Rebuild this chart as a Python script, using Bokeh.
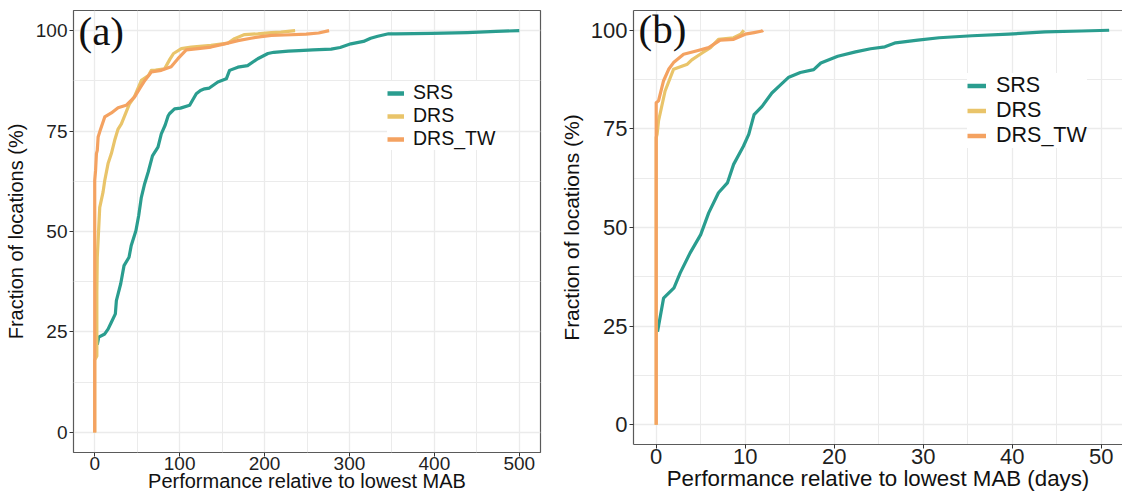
from bokeh.plotting import figure
from bokeh.layouts import row, column
from bokeh.models import FixedTicker, Legend, LegendItem, Label, LinearAxis, Range1d
from bokeh.embed import file_html
from bokeh.resources import INLINE

# ---------------- data: panel (a) ----------------
series_names = ["SRS", "DRS", "DRS_TW"]
series_colors = ["#2A9D8F", "#E9C46A", "#F4A261"]

srs_a_x = [3, 4.7, 11.8, 15.7, 19.6, 24.3, 25.5, 30.6, 34.5, 40.4, 43, 48.5, 51.8,
           54.9, 58.8, 63, 68, 74.5, 78.4, 83, 86.5, 88, 94, 101, 111.8, 119.6,
           124.5, 129.4, 135, 145, 155, 158.8, 168.6, 180, 192, 204, 211, 228,
           240.5, 257, 278.5, 289, 301.7, 316.5, 325, 333.3, 346, 354.4, 396.6,
           438.8, 472.6, 500]
srs_a_y = [21.8, 23.7, 24.5, 25.7, 27.4, 29.5, 32.8, 37, 41.5, 43.6, 46.5, 50.2, 54,
           58.5, 61.9, 64.8, 68.8, 71, 74.3, 76.5, 78.8, 79.3, 80.5, 80.7, 81.4, 84.3,
           85.1, 85.5, 85.7, 87.2, 88, 90.1, 90.9, 91.3, 93, 94.3, 94.6, 94.9,
           95, 95.2, 95.4, 95.8, 96.7, 97.3, 98.1, 98.6, 99.2, 99.2, 99.3,
           99.5, 99.8, 100]

drs_a_x = [0, 0, 2.5, 2.5, 3, 5.9, 9.8, 11.8, 15.7, 19.6, 23.5, 27.5, 31.4, 41, 46.4,
           55, 63.3, 66.7, 71.7, 82.3, 88.6, 92.8, 102, 113.7, 137, 157, 164.7,
           176.5, 192, 208, 219.4, 236]
drs_a_y = [0, 18, 19, 35, 43.6, 56, 59.8, 62.7, 66.9, 69.4, 72.7, 75.5, 76.8, 81.8, 83.4,
           87.6, 88.8, 90.1, 90.2, 90.5, 92.9, 94.3, 95.5, 95.9, 96.3, 96.9, 98,
           99, 99.2, 99.5, 99.6, 100]

tw_a_x = [0, 0, 1, 2, 3, 4, 5.9, 11.8, 19.6, 27.5, 37, 47, 52.7, 59, 66.7, 78.4, 90,
          98, 107.8, 121.6, 137, 153, 168.6, 184, 196, 208, 223.6, 249, 263.7, 276]
tw_a_y = [0, 62.7, 65.2, 69.4, 70.2, 73.5, 74.8, 78.5, 79.5, 80.8, 81.4, 83.5, 85.5, 87.6,
          89.7, 90.1, 91, 93, 95.2, 95.5, 95.9, 96.7, 97.5, 98.1, 98.5, 98.8,
          98.9, 99.1, 99.4, 100]

# ---------------- data: panel (b) ----------------
srs_b_x = [0.15, 0.83, 2, 2.7, 3.8, 5, 5.9, 7, 8, 8.7, 9.8, 10.4, 11, 11.9, 13, 14,
           14.9, 16.2, 17.7, 18.5, 20.4, 22.4, 24.1, 25.7, 26.9, 29.4, 31.8, 35.5,
           39.6, 43.7, 47.8, 50.9]
srs_b_y = [23.6, 32.1, 34.7, 38.5, 43.5, 48.2, 53.7, 58.8, 61.3, 66, 70.6, 73.6, 78.6,
           80.7, 84.1, 86.2, 88.1, 89.3, 90, 91.7, 93.4, 94.5, 95.3, 95.8, 96.8, 97.5,
           98.1, 98.6, 99, 99.6, 99.8, 100]

drs_b_x = [0, 0, 0.1, 0.26, 1, 1.95, 3.5, 4, 5.2, 6.1, 7, 8.7, 9.5, 9.85]
drs_b_y = [0, 72.8, 73.6, 77, 84.6, 90.1, 91.4, 92.5, 94.3, 95.6, 97.7, 98.1, 99, 100]

tw_b_x = [0, 0, 0.26, 0.83, 1.4, 1.95, 3.08, 4.6, 5.9, 6.5, 7.2, 8.7, 10, 11, 11.9, 12]
tw_b_y = [0, 81.6, 82.1, 87.2, 90.1, 91.8, 93.9, 94.8, 95.6, 96.5, 97.5, 97.7, 99,
          99.4, 99.8, 100]

y_ticks = [0, 25, 50, 75, 100]
y_minor = [12.5, 37.5, 62.5, 87.5]
xa_ticks = [0, 100, 200, 300, 400, 500]
xa_minor = [50, 150, 250, 350, 450]
xb_ticks = [0, 10, 20, 30, 40, 50]
xb_minor = [5, 15, 25, 35, 45]

FONT = "Liberation Sans"
GRID = "#EBEBEB"
BORDER = "#5a5a5a"
NAN = float("nan")


def style(p, xt, xm, tick_size):
    xax = p.below[0]
    yax = p.left[0]
    xax.ticker = FixedTicker(ticks=xt, minor_ticks=xm)
    yax.ticker = FixedTicker(ticks=y_ticks, minor_ticks=y_minor)
    for g in (p.xgrid[0], p.ygrid[0]):
        g.grid_line_color = GRID
        g.grid_line_width = 1.3
        g.minor_grid_line_color = GRID
        g.minor_grid_line_width = 1.0
    for ax in (xax, yax):
        ax.major_label_text_font = FONT
        ax.major_label_text_font_size = tick_size
        ax.major_label_text_color = "#1f1f1f"
        ax.major_tick_in = 0
        ax.major_tick_out = 4
        ax.major_tick_line_color = "#333333"
        ax.minor_tick_line_color = None
        ax.axis_label_text_font = FONT
        ax.axis_label_text_font_style = "normal"
        ax.axis_label_text_color = "#111111"
    p.background_fill_color = "white"
    p.border_fill_color = "white"
    return xax, yax


def add_lines(p, xs_list, ys_list, lw):
    for xs, ys, c in zip(xs_list, ys_list, series_colors):
        p.line(xs, ys, line_color=c, line_width=lw, line_join="round")


def add_legend(p, loc, fsize, gw, standoff, rowh, lw):
    items = []
    for n, c in zip(series_names, series_colors):
        r = p.line(x=[NAN], y=[NAN], line_color=c, line_width=lw)
        items.append(LegendItem(label=n, renderers=[r]))
    leg = Legend(items=items, location=loc, margin=0, padding=4, spacing=0,
                 glyph_width=gw, glyph_height=rowh, label_height=rowh,
                 label_standoff=standoff, label_text_font=FONT,
                 label_text_font_size=fsize, label_text_baseline="middle",
                 label_text_color="#111111",
                 background_fill_color="white", background_fill_alpha=1.0,
                 border_line_color=None)
    p.add_layout(leg)


# ---------------- panel (a) ----------------
pa = figure(width=555, height=497, output_backend="svg", toolbar_location=None,
            x_range=Range1d(-25, 525), y_range=Range1d(-5, 105),
            min_border_left=73, min_border_right=15, min_border_top=10,
            min_border_bottom=45)
xa, ya = style(pa, xa_ticks, xa_minor, "19px")
pa.outline_line_color = BORDER
pa.outline_line_width = 1.2
xa.axis_line_color = None
ya.axis_line_color = None
xa.major_label_standoff = 0
ya.major_label_standoff = 2
ya.axis_label = "Fraction of locations (%)"
ya.axis_label_text_font_size = "20px"
ya.axis_label_standoff = 6
xa.axis_label = "Performance relative to lowest MAB"
xa.axis_label_text_font_size = "20px"
xa.axis_label_standoff = -3
add_lines(pa, [srs_a_x, drs_a_x, tw_a_x], [srs_a_y, drs_a_y, tw_a_y], 3.2)
add_legend(pa, (314, 302), "19.5px", 17, 9, 22, 4.5)
pa.add_layout(Label(x=5, y=445, x_units="screen", y_units="screen", text="(a)",
                    text_font="Liberation Serif", text_font_size="41px",
                    text_baseline="top", text_color="#111111"))

# ---------------- panel (b) ----------------
pb = figure(width=567, height=497, output_backend="svg", toolbar_location=None,
            x_range=Range1d(-2.55, 52.4), y_range=Range1d(-5, 105),
            min_border_left=78, min_border_right=0, min_border_top=10,
            min_border_bottom=53)
xb, yb = style(pb, xb_ticks, xb_minor, "22px")
pb.outline_line_color = None
xb.axis_line_color = BORDER
yb.axis_line_color = BORDER
xb.axis_line_width = 1.2
yb.axis_line_width = 1.2
top_ax = LinearAxis(ticker=FixedTicker(ticks=[]), major_tick_out=0, major_tick_in=0,
                    major_label_standoff=0, axis_line_color=BORDER,
                    axis_line_width=1.2, minor_tick_line_color=None,
                    major_label_text_font_size="0px")
pb.add_layout(top_ax, "above")
xb.major_label_standoff = 0
yb.major_label_standoff = 2
yb.axis_label = "Fraction of locations (%)"
yb.axis_label_text_font_size = "21px"
yb.axis_label_standoff = 5
xb.axis_label = "Performance relative to lowest MAB (days)"
xb.axis_label_text_font_size = "22.3px"
xb.axis_label_standoff = -1
add_lines(pb, [srs_b_x, drs_b_x, tw_b_x], [srs_b_y, drs_b_y, tw_b_y], 3.2)
add_legend(pb, (334, 296), "21.5px", 19, 10, 25, 4.5)
pb.add_layout(Label(x=5, y=439, x_units="screen", y_units="screen", text="(b)",
                    text_font="Liberation Serif", text_font_size="41px",
                    text_baseline="top", text_color="#111111"))

layout = row(column(pa), column(pb))
open("out.html", "w").write(file_html(layout, INLINE))
